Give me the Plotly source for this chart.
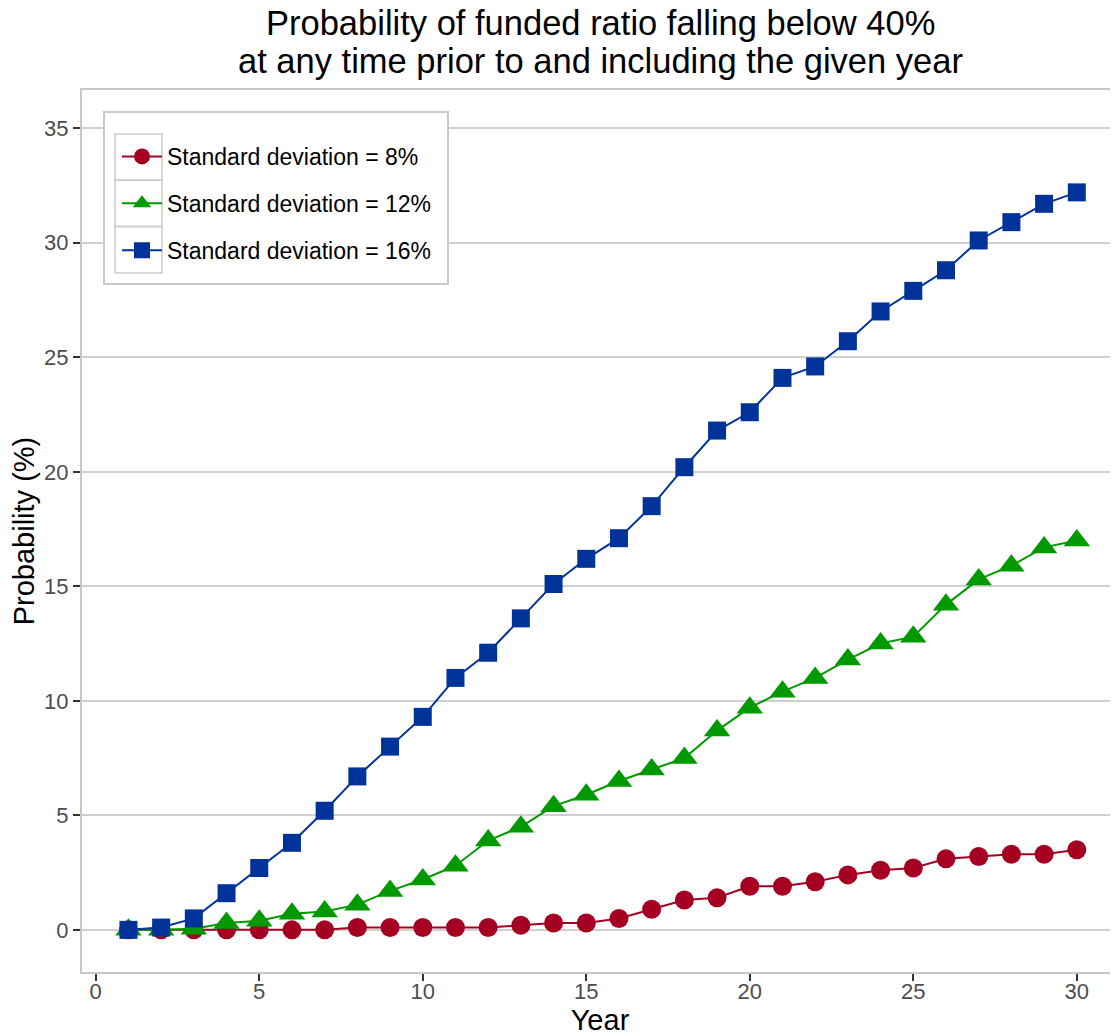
import plotly.graph_objects as go

years = list(range(1, 31))

sd8 = [0, 0, 0, 0, 0, 0, 0, 0.1, 0.1, 0.1, 0.1, 0.1, 0.2, 0.3, 0.3,
       0.5, 0.9, 1.3, 1.4, 1.9, 1.9, 2.1, 2.4, 2.6, 2.7, 3.1, 3.2, 3.3, 3.3, 3.5]
sd12 = [0, 0, 0.05, 0.3, 0.4, 0.7, 0.8, 1.1, 1.7, 2.2, 2.8, 3.9, 4.5, 5.4, 5.9,
        6.5, 7.0, 7.5, 8.7, 9.7, 10.4, 11.0, 11.8, 12.5, 12.8, 14.2, 15.3, 15.9, 16.7, 17.0]
sd16 = [0, 0.1, 0.5, 1.6, 2.7, 3.8, 5.2, 6.7, 8.0, 9.3, 11.0, 12.1, 13.6, 15.1, 16.2,
        17.1, 18.5, 20.2, 21.8, 22.6, 24.1, 24.6, 25.7, 27.0, 27.9, 28.8, 30.1, 30.9, 31.7, 32.2]

names = ["Standard deviation = 8%", "Standard deviation = 12%", "Standard deviation = 16%"]
colors = ["#A50021", "#009900", "#003399"]
symbols = ["circle", "triangle-up", "square"]
sizes = [19, 23, 18]

fig = go.Figure()
for i, vals in enumerate([sd8, sd12, sd16]):
    fig.add_trace(go.Scatter(
        x=years, y=vals, name=names[i], mode="lines+markers",
        line=dict(color=colors[i], width=2),
        marker=dict(symbol=symbols[i], size=sizes[i], color=colors[i]),
        legendgroup=str(i),
    ))

# page body has an 8px margin, so the figure is a bit smaller than the window
W, H = 1110, 1028
ml, mt, mb = 74, 82, 64
pw, ph = W - ml, H - mt - mb


def px_x(p):
    return (p - ml) / pw


def px_y(p):
    return (H - mb - p) / ph


# legend frame + grey boxes around the keys (ggplot look)
shapes = [dict(type="rect", xref="paper", yref="paper",
               x0=px_x(96), x1=px_x(440), y0=px_y(104), y1=px_y(276),
               fillcolor="white", line=dict(color="#C8C8C8", width=2), layer="above")]
for k in range(3):
    y0 = 126 + k * 46.3
    shapes.append(dict(type="rect", xref="paper", yref="paper",
                       x0=px_x(107), x1=px_x(154), y0=px_y(y0), y1=px_y(y0 + 46.3),
                       line=dict(color="#CCCCCC", width=1.5), layer="above"))

title_lines = ["Probability of funded ratio falling below 40%",
               "at any time prior to and including the given year"]
annotations = [
    dict(text=title_lines[0], xref="paper", yref="paper", x=0.5, y=px_y(14.5),
         xanchor="center", yanchor="middle", showarrow=False,
         font=dict(size=34.5, color="black")),
    dict(text=title_lines[1], xref="paper", yref="paper", x=0.5, y=px_y(53),
         xanchor="center", yanchor="middle", showarrow=False,
         font=dict(size=34.5, color="black")),
]

fig.update_layout(
    width=W, height=H,
    margin=dict(l=ml, r=0, t=mt, b=mb, autoexpand=False),
    plot_bgcolor="white", paper_bgcolor="white",
    font=dict(family="Liberation Sans, Arial, sans-serif", color="black"),
    showlegend=True,
    legend=dict(
        x=px_x(109), y=px_y(127), xanchor="left", yanchor="top",
        bgcolor="rgba(0,0,0,0)", borderwidth=0,
        font=dict(size=23, color="black"),
        tracegroupgap=14, itemwidth=40,
    ),
    shapes=shapes,
    annotations=annotations,
    xaxis=dict(
        range=[-0.42, 31.26], tickvals=[0, 5, 10, 15, 20, 25, 30],
        showgrid=False, zeroline=False, automargin=False,
        showline=True, linecolor="#C8C8C8", linewidth=2, mirror=True,
        ticks="outside", ticklen=7, tickwidth=2, tickcolor="#333333",
        tickfont=dict(size=22, color="#4D4D4D"), ticklabelstandoff=-8,
        title=dict(text="Year", font=dict(size=29, color="black"), standoff=4),
    ),
    yaxis=dict(
        range=[-1.84, 36.67], tickvals=[0, 5, 10, 15, 20, 25, 30, 35],
        showgrid=True, gridcolor="#D0D0D0", gridwidth=2, zeroline=False,
        automargin=False,
        showline=True, linecolor="#C8C8C8", linewidth=2,
        ticks="outside", ticklen=7, tickwidth=2, tickcolor="#333333",
        tickfont=dict(size=22, color="#4D4D4D"),
        title=dict(text="Probability (%)", font=dict(size=29, color="black"), standoff=6),
    ),
)

fig.write_html("out.html")
